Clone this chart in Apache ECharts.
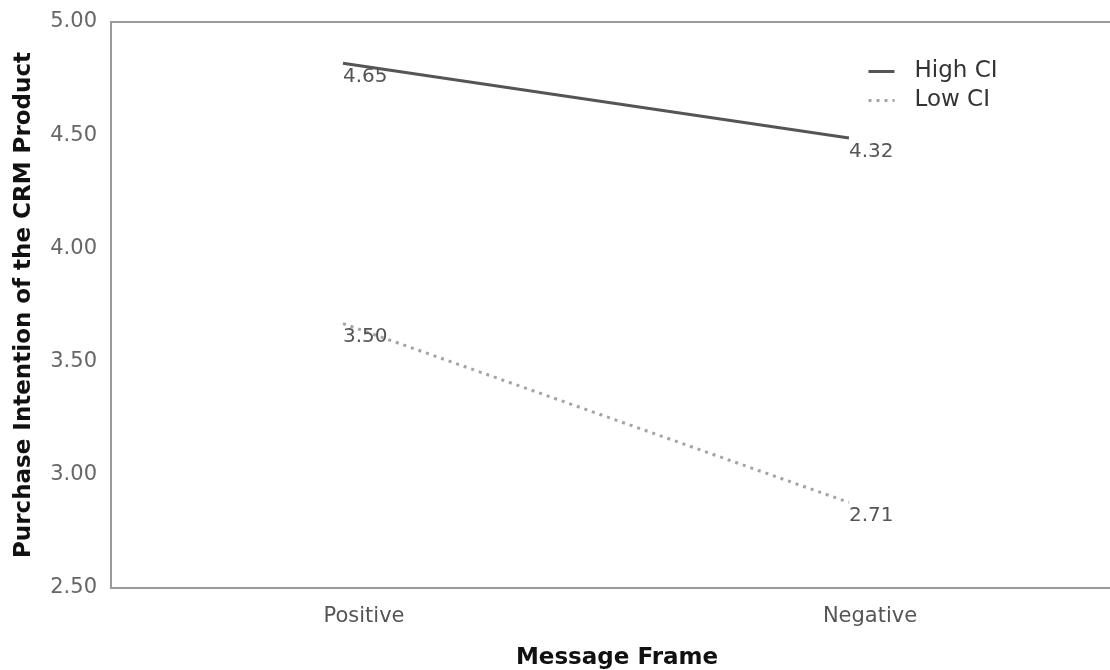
<!DOCTYPE html>
<html>
<head>
<meta charset="utf-8">
<script src="https://cdn.jsdelivr.net/npm/echarts@6/dist/echarts.min.js"></script>
<style>
html,body{margin:0;padding:0;background:#fff;}
#chart{width:1110px;height:670px;}
</style>
</head>
<body>
<div id="chart"></div>
<script>
const categories = ['Positive', 'Negative'];
const highCI = [4.65, 4.32];
const lowCI = [3.50, 2.71];
const seriesNames = ['High CI', 'Low CI'];
const yMin = 2.5, yMax = 5.0, yStep = 0.5;
const xTitle = 'Message Frame';
const yTitle = 'Purchase Intention of the CRM Product';

const FONT = 'DejaVu Sans';
const chart = echarts.init(document.getElementById('chart'), null, {renderer: 'canvas'});

const labelCfg = {
  show: true, position: 'bottom', align: 'left', distance: 3,
  fontFamily: FONT, fontSize: 20, color: '#555',
  formatter: p => Number(p.value).toFixed(2)
};

chart.setOption({
  animation: false,
  backgroundColor: '#fff',
  grid: [
    {left: 111, width: 1012, top: 22, height: 566, show: true, borderColor: '#9a9a9a', borderWidth: 2,
      containLabel: false, outerBoundsMode: 'none'},
    {left: 90, width: 1012, top: -16, height: 566, containLabel: false, outerBoundsMode: 'none'}
  ],
  legend: {
    orient: 'vertical', left: 867, top: 60, padding: 0, itemGap: 6,
    itemWidth: 26, itemHeight: 14,
    itemStyle: {opacity: 0},
    lineStyle: {width: 3},
    textStyle: {fontFamily: FONT, fontSize: 23, color: '#333', padding: [0, 0, 0, 15]},
    data: seriesNames
  },
  xAxis: [
    {
      type: 'category', gridIndex: 0, data: categories, boundaryGap: true,
      axisLine: {show: false}, axisTick: {show: false}, splitLine: {show: false},
      axisLabel: {fontFamily: FONT, fontSize: 21, color: '#555', margin: 18},
      name: xTitle, nameLocation: 'middle', nameGap: 59,
      nameTextStyle: {fontFamily: FONT, fontSize: 23, fontWeight: 'bold', color: '#111'}
    },
    {
      type: 'category', gridIndex: 1, data: categories, boundaryGap: true, show: false
    }
  ],
  yAxis: [
    {
      type: 'value', gridIndex: 0, min: yMin, max: yMax, interval: yStep,
      axisLine: {show: false}, axisTick: {show: false}, splitLine: {show: false},
      axisLabel: {fontFamily: FONT, fontSize: 21, color: '#666', margin: 14,
        padding: [4, 0, 0, 0], formatter: v => v.toFixed(2)},
      name: yTitle, nameLocation: 'middle', nameGap: 75,
      nameTextStyle: {fontFamily: FONT, fontSize: 23, fontWeight: 'bold', color: '#111'}
    },
    {
      type: 'value', gridIndex: 1, min: yMin, max: yMax, interval: yStep, show: false
    }
  ],
  series: [
    {
      name: seriesNames[0], type: 'line', xAxisIndex: 1, yAxisIndex: 1,
      data: highCI, symbol: 'circle', symbolSize: 1, showSymbol: true,
      itemStyle: {color: 'rgba(0,0,0,0)'},
      lineStyle: {color: '#555', width: 3, type: 'solid'},
      label: labelCfg
    },
    {
      name: seriesNames[1], type: 'line', xAxisIndex: 1, yAxisIndex: 1,
      data: lowCI, symbol: 'circle', symbolSize: 1, showSymbol: true,
      itemStyle: {color: 'rgba(0,0,0,0)'},
      lineStyle: {color: '#a4a4a4', width: 3, type: [3, 5]},
      label: labelCfg
    }
  ]
});
</script>
</body>
</html>
